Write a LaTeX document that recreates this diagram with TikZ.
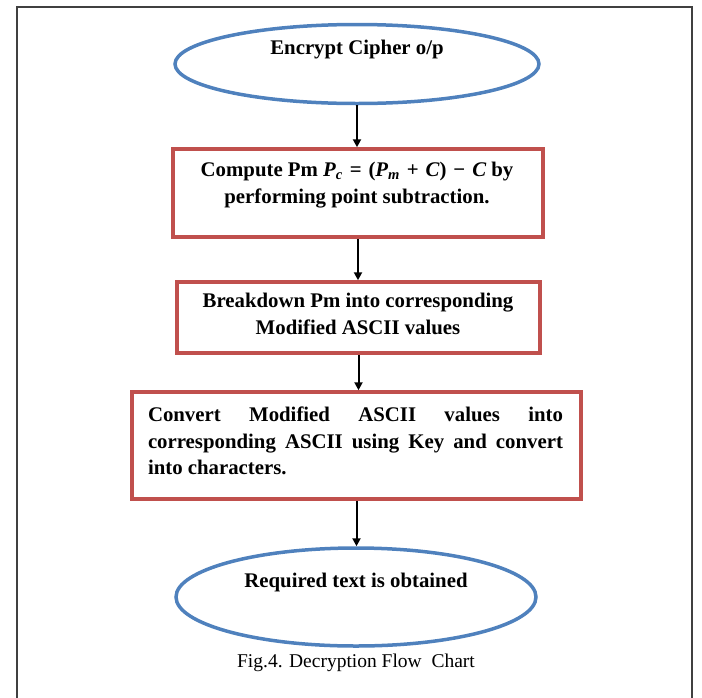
\documentclass[tikz,border=0pt]{standalone}
\usepackage{fontspec}
\setmainfont{Liberation Serif}
\usetikzlibrary{shapes.geometric,arrows.meta}
\definecolor{ellblue}{HTML}{4F81BD}
\definecolor{boxred}{HTML}{C0504D}
\definecolor{framegray}{HTML}{404040}
\tikzset{
  ellbox/.style={ellipse,draw=ellblue,line width=3.5pt,inner sep=0pt},
  redbox/.style={rectangle,draw=boxred,line width=3.5pt,inner sep=0pt},
  btext/.style={font=\fontsize{20.8}{26.5}\selectfont\bfseries,align=center,inner sep=0pt},
  flowarrow/.style={draw=black,line width=2pt,-{Triangle[length=8pt,width=8pt]}}
}
\newcommand{\bi}[1]{{\bfseries\itshape #1}}
\begin{document}
\begin{tikzpicture}[x=1pt,y=-1pt]
\useasboundingbox (0,0) rectangle (702,697);
% frame
\draw[framegray,line width=1.8pt] (17,705) -- (17,7) -- (692,7) -- (692,705);
% nodes
\node[ellbox,minimum width=364pt,minimum height=79pt] (e1) at (357,64) {};
\node[btext] (e1t) at (357,50) {Encrypt Cipher o/p};
\node[redbox,minimum width=370pt,minimum height=88pt] (b1) at (358,193) {};
\node[btext] (b1t) at (357,185) {Compute Pm \bi{P}\textsubscript{\bi{c}}\,\,=\,\,(\bi{P}\textsubscript{\bi{m}}\,\,+\,\,\bi{C})\,\,−\,\,\bi{C} by\\performing point subtraction.};
\node[redbox,minimum width=363pt,minimum height=71pt] (b2) at (358.5,317.5) {};
\node[btext] (b2t) at (358,314) {Breakdown Pm into corresponding\\Modified ASCII values};
\node[redbox,minimum width=449pt,minimum height=107pt] (b3) at (356.5,445.5) {};
\node[btext,text width=415pt,align=justify] (b3t) at (355.5,441) {\hyphenpenalty=10000 Convert Modified ASCII values into\linebreak corresponding ASCII using Key and convert\linebreak into characters.};
\node[ellbox,minimum width=360pt,minimum height=98pt] (e2) at (356,597) {};
\node[btext] (e2t) at (356,582) {Required text is obtained};
\node[font=\fontsize{19.5}{22}\selectfont,inner sep=0pt] (cap) at (356,663) {Fig.4. Decryption Flow\ \ Chart};
% arrows
\draw[flowarrow] (e1.south) -- (e1.south |- b1.north);
\draw[flowarrow] (b1.south) -- (b1.south |- b2.north);
\draw[flowarrow] (b2.south) -- (b2.south |- b3.north);
\draw[flowarrow] (b3.south) -- (b3.south |- e2.north);
\end{tikzpicture}
\end{document}
